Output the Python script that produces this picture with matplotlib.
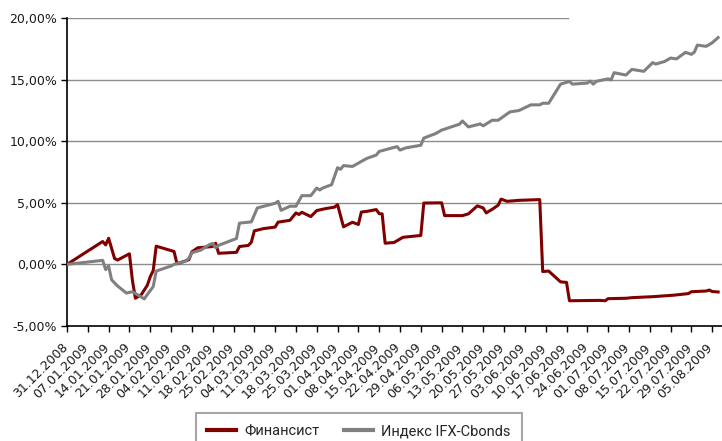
import matplotlib
matplotlib.use("Agg")
import matplotlib.pyplot as plt
import matplotlib.dates as mdates
import matplotlib.transforms as mtransforms
import pandas as pd
from matplotlib.lines import Line2D

# ---- data (values in %) ----
fin_dates = ["31.12.2008", "12.01.2009", "13.01.2009", "14.01.2009", "16.01.2009", "17.01.2009",
             "21.01.2009", "22.01.2009", "23.01.2009", "24.01.2009", "25.01.2009", "27.01.2009",
             "28.01.2009", "29.01.2009", "30.01.2009", "05.02.2009", "06.02.2009", "10.02.2009",
             "11.02.2009", "13.02.2009", "18.02.2009", "19.02.2009", "20.02.2009", "26.02.2009",
             "27.02.2009", "02.03.2009", "03.03.2009", "04.03.2009", "07.03.2009", "11.03.2009",
             "12.03.2009", "16.03.2009", "18.03.2009", "19.03.2009", "20.03.2009", "23.03.2009",
             "25.03.2009", "28.03.2009", "31.03.2009", "01.04.2009", "03.04.2009", "06.04.2009",
             "08.04.2009", "09.04.2009", "11.04.2009", "14.04.2009", "15.04.2009", "16.04.2009",
             "17.04.2009", "20.04.2009", "23.04.2009", "29.04.2009", "30.04.2009", "06.05.2009",
             "07.05.2009", "13.05.2009", "15.05.2009", "18.05.2009", "20.05.2009", "21.05.2009",
             "23.05.2009", "25.05.2009", "26.05.2009", "28.05.2009", "01.06.2009", "08.06.2009",
             "09.06.2009", "11.06.2009", "15.06.2009", "17.06.2009", "18.06.2009", "25.06.2009",
             "28.06.2009", "30.06.2009", "01.07.2009", "07.07.2009", "09.07.2009", "16.07.2009",
             "23.07.2009", "28.07.2009", "29.07.2009", "03.08.2009", "04.08.2009", "05.08.2009",
             "07.08.2009"]
fin_values = [0.00, 1.86, 1.58, 2.12, 0.48, 0.35,
              0.86, -1.30, -2.75, -2.60, -2.45, -1.70,
              -1.00, -0.50, 1.48, 1.05, 0.05, 0.38,
              1.02, 1.35, 1.45, 1.72, 0.90, 0.98,
              1.45, 1.54, 1.80, 2.72, 2.90, 3.03,
              3.43, 3.58, 4.18, 4.05, 4.23, 3.88,
              4.37, 4.53, 4.65, 4.85, 3.05, 3.42,
              3.24, 4.25, 4.31, 4.45, 4.12, 4.10,
              1.72, 1.78, 2.20, 2.35, 4.98, 5.00,
              3.96, 3.96, 4.10, 4.75, 4.58, 4.18,
              4.47, 4.80, 5.30, 5.12, 5.20, 5.26,
              -0.58, -0.54, -1.42, -1.46, -2.95, -2.93,
              -2.92, -2.95, -2.78, -2.75, -2.70, -2.62,
              -2.50, -2.37, -2.22, -2.16, -2.08, -2.20,
              -2.24]

ifx_dates = ["31.12.2008", "12.01.2009", "13.01.2009", "14.01.2009", "15.01.2009", "17.01.2009",
             "20.01.2009", "22.01.2009", "24.01.2009", "26.01.2009", "27.01.2009", "29.01.2009",
             "30.01.2009", "04.02.2009", "05.02.2009", "09.02.2009", "10.02.2009", "11.02.2009",
             "14.02.2009", "17.02.2009", "18.02.2009", "19.02.2009", "20.02.2009", "26.02.2009",
             "27.02.2009", "03.03.2009", "05.03.2009", "11.03.2009", "12.03.2009", "13.03.2009",
             "16.03.2009", "18.03.2009", "20.03.2009", "23.03.2009", "25.03.2009", "26.03.2009",
             "27.03.2009", "30.03.2009", "01.04.2009", "02.04.2009", "03.04.2009", "06.04.2009",
             "08.04.2009", "09.04.2009", "11.04.2009", "14.04.2009", "15.04.2009", "17.04.2009",
             "21.04.2009", "22.04.2009", "24.04.2009", "29.04.2009", "30.04.2009", "04.05.2009",
             "06.05.2009", "09.05.2009", "12.05.2009", "13.05.2009", "15.05.2009", "19.05.2009",
             "20.05.2009", "23.05.2009", "25.05.2009", "29.05.2009", "01.06.2009", "03.06.2009",
             "05.06.2009", "08.06.2009", "09.06.2009", "11.06.2009", "15.06.2009", "18.06.2009",
             "19.06.2009", "24.06.2009", "25.06.2009", "26.06.2009", "27.06.2009", "01.07.2009",
             "02.07.2009", "03.07.2009", "07.07.2009", "09.07.2009", "13.07.2009", "16.07.2009",
             "17.07.2009", "20.07.2009", "22.07.2009", "24.07.2009", "27.07.2009", "29.07.2009",
             "30.07.2009", "31.07.2009", "03.08.2009", "05.08.2009", "07.08.2009"]
ifx_values = [0.00, 0.33, -0.42, -0.13, -1.25, -1.75,
              -2.33, -2.22, -2.50, -2.80, -2.45, -1.80,
              -0.54, -0.13, 0.00, 0.27, 0.50, 0.95,
              1.16, 1.62, 1.70, 1.35, 1.55, 2.10,
              3.35, 3.45, 4.58, 4.96, 5.12, 4.39,
              4.72, 4.72, 5.58, 5.58, 6.20, 6.04,
              6.20, 6.47, 7.85, 7.72, 8.02, 7.95,
              8.22, 8.36, 8.62, 8.87, 9.17, 9.30,
              9.56, 9.28, 9.46, 9.67, 10.25, 10.62,
              10.90, 11.14, 11.38, 11.64, 11.16, 11.40,
              11.25, 11.70, 11.70, 12.38, 12.49, 12.72,
              12.95, 12.95, 13.08, 13.08, 14.63, 14.85,
              14.63, 14.72, 14.88, 14.63, 14.86, 15.06,
              14.97, 15.56, 15.37, 15.83, 15.67, 16.38,
              16.26, 16.47, 16.75, 16.68, 17.21, 17.05,
              17.23, 17.80, 17.70, 17.99, 18.41]

tick_labels = ["31.12.2008", "07.01.2009", "14.01.2009", "21.01.2009", "28.01.2009",
               "04.02.2009", "11.02.2009", "18.02.2009", "25.02.2009", "04.03.2009",
               "11.03.2009", "18.03.2009", "25.03.2009", "01.04.2009", "08.04.2009",
               "15.04.2009", "22.04.2009", "29.04.2009", "06.05.2009", "13.05.2009",
               "20.05.2009", "27.05.2009", "03.06.2009", "10.06.2009", "17.06.2009",
               "24.06.2009", "01.07.2009", "08.07.2009", "15.07.2009", "22.07.2009",
               "29.07.2009", "05.08.2009"]
y_ticks = [-5, 0, 5, 10, 15, 20]
series_names = ["Финансист", "Индекс IFX-Cbonds"]

# ---- plot ----
W, H = 722, 441
fig = plt.figure(figsize=(W / 100, H / 100), dpi=100)
ax = fig.add_axes([67 / W, 1 - 326 / H, (722 - 67) / W, (326 - 18) / H])

fd = pd.to_datetime(fin_dates, format="%d.%m.%Y")
idd = pd.to_datetime(ifx_dates, format="%d.%m.%Y")
td = pd.to_datetime(tick_labels, format="%d.%m.%Y")

red = "#800000"
gray = "#808080"

ax.plot(fd, fin_values, color=red, lw=2.2, solid_joinstyle="round", zorder=3)
ax.plot(idd, ifx_values, color=gray, lw=2.2, solid_joinstyle="round", zorder=3)

x0 = mdates.date2num(td[0])
ax.set_xlim(x0, x0 + 220.3)
ax.set_ylim(-5, 20)

# gridlines
for yv in y_ticks[1:]:
    xmax = (568 - 67) / (722 - 67) if yv == 20 else 1.0
    ax.axhline(yv, xmin=0, xmax=xmax, color="#8c8c8c", lw=1.0, zorder=1)

ax.set_yticks(y_ticks)
ax.set_yticklabels([f"{v:.2f}".replace(".", ",") + "%" for v in y_ticks])
ax.set_xticks(td)
ax.set_xticklabels(tick_labels, rotation=45, ha="right", va="top", rotation_mode="anchor")

ax.tick_params(axis="y", length=4, width=1, color="black", labelsize=9, pad=3,
               labelcolor="#1a1a1a")
ax.tick_params(axis="x", length=4, width=1, color="black", labelsize=9, pad=6,
               labelcolor="#1a1a1a")

shift = mtransforms.ScaledTranslation(-6 / 100, -1 / 100, fig.dpi_scale_trans)
for lab in ax.get_xticklabels():
    lab.set_transform(lab.get_transform() + shift)

for s in ["top", "right"]:
    ax.spines[s].set_visible(False)
for s in ["left", "bottom"]:
    ax.spines[s].set_color("black")
    ax.spines[s].set_linewidth(1.2)

handles = [Line2D([], [], color=red, lw=3), Line2D([], [], color=gray, lw=3)]
leg = fig.legend(handles, series_names, ncol=2, loc="upper left",
                 bbox_to_anchor=(196 / W, 1 - 413 / H), frameon=True, fancybox=False,
                 prop={"family": ["Roboto", "DejaVu Sans"], "size": 10.5},
                 handlelength=1.99, handletextpad=0.55, columnspacing=1.65,
                 borderpad=0.78, borderaxespad=0)
leg.get_frame().set_edgecolor("#909090")
leg.get_frame().set_linewidth(1.5)
for t in leg.get_texts():
    t.set_color("#262626")

fig.savefig("out.png", dpi=100)
